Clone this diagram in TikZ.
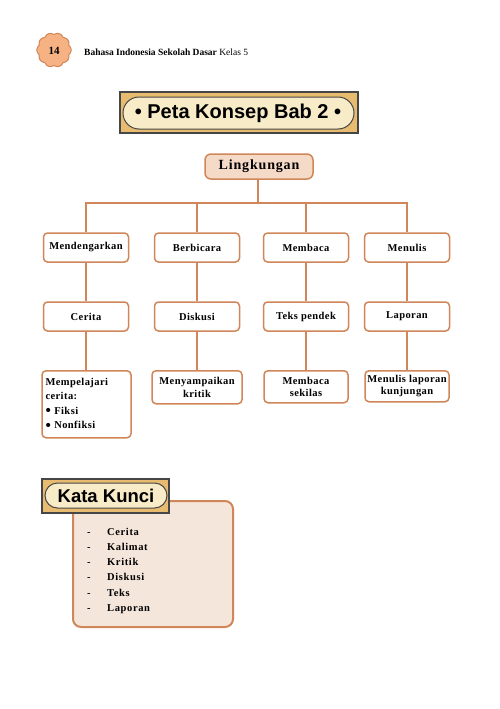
\documentclass[tikz,border=0pt]{standalone}
\usepackage{fontspec}
\usepackage{graphicx}
\setmainfont{Liberation Serif}
\newfontfamily\lab[LetterSpace=4]{Liberation Serif}
\newfontfamily\labwide[LetterSpace=6]{Liberation Serif}
\newfontfamily\hsans{Liberation Sans}
\definecolor{lineC}{RGB}{208,134,88}
\definecolor{lingFill}{RGB}{245,218,200}
\definecolor{badgeFill}{RGB}{246,178,130}
\definecolor{titleFill}{RGB}{232,188,112}
\definecolor{ellFill}{RGB}{248,236,200}
\definecolor{kkFill}{RGB}{245,230,220}
\definecolor{darkB}{RGB}{70,70,70}
\newcommand{\bigbul}{\raisebox{-1.7pt}{\scalebox{1.45}{\textbullet}}}
\begin{document}
\begin{tikzpicture}[x=1pt,y=-1pt,
  conn/.style={draw=lineC, line width=1.8pt},
  box/.style={draw=lineC, line width=1.5pt, rounded corners=4pt, fill=white,
    minimum width=85pt, minimum height=29pt, inner sep=2pt, align=center,
    font={\lab\bfseries\fontsize{10.5}{12.5}\selectfont}},
  titlerect/.style={draw=darkB, line width=1.5pt, fill=titleFill, inner sep=0pt},
  titleell/.style={draw=darkB, line width=1pt, fill=ellFill, inner sep=0pt},
  titletext/.style={font={\hsans\bfseries\fontsize{20}{24}\selectfont}, inner sep=0pt},
  kw/.style={anchor=base west, inner sep=0pt, font={\labwide\bfseries\fontsize{10.5}{12}\selectfont}}
]
\useasboundingbox (0,0) rectangle (499,709);
\fill[white] (0,0) rectangle (499,709);

% page badge and header
\draw[draw=lineC, line width=1pt, fill=badgeFill]
  plot[domain=0:360, samples=241, smooth]
  ({54+(15.5+1.6*abs(cos(5*\x)))*cos(\x)}, {50+(15.5+1.6*abs(cos(5*\x)))*sin(\x)}) -- cycle;
\node[font={\bfseries\fontsize{11}{13}\selectfont}] (badge) at (54,50.5) {14};
\node[anchor=base west, inner sep=0pt, font={\fontsize{9.5}{11}\selectfont}] (header) at (84,56)
  {\textbf{Bahasa Indonesia Sekolah Dasar} Kelas 5};

% main title
\node[titlerect, minimum width=238pt, minimum height=41pt] (title) at (239,112.5) {};
\node[titleell, rounded corners=16pt, minimum width=231pt, minimum height=32pt] (titleinner) at (238.5,113) {};
\node[titletext] (titletxt) at (238,113) {\textbullet\ Peta Konsep Bab 2 \textbullet};

% root
\node[draw=lineC, line width=1.5pt, fill=lingFill, rounded corners=6pt,
  minimum width=108pt, minimum height=25pt, inner sep=0pt,
  font={\labwide\bfseries\fontsize{14}{16}\selectfont}] (ling) at (259,166.5) {Lingkungan};

% level 1
\node[box] (m1) at (86,247.5) {Mendengarkan};
\node[box] (m2) at (197,247.5) {Berbicara};
\node[box] (m3) at (306,247.5) {Membaca};
\node[box] (m4) at (407,247.5) {Menulis};

% level 2
\node[box] (c1) at (86,316.5) {Cerita};
\node[box] (c2) at (197,316.5) {Diskusi};
\node[box] (c3) at (306,316.5) {Teks pendek};
\node[box] (c4) at (407,316.5) {Laporan};

% level 3
\node[box, anchor=north, minimum width=89pt, minimum height=67pt, text width=82pt, align=left,
  font={\lab\bfseries\fontsize{10.5}{14.4}\selectfont}] (d1) at (86.5,370)
  {Mempelajari\\cerita:\\\bigbul\ Fiksi\\\bigbul\ Nonfiksi};
\node[box, anchor=north, minimum width=90pt, minimum height=33pt] (d2) at (197,370) {Menyampaikan\\kritik};
\node[box, anchor=north, minimum width=84pt, minimum height=32pt] (d3) at (306,370) {Membaca\\sekilas};
\node[box, anchor=north, minimum width=84pt, minimum height=31pt] (d4) at (407,370) {Menulis laporan\\kunjungan};

% connectors
\coordinate (bar) at (258,203);
\draw[conn] (ling.south -| bar) -- (bar);
\draw[conn] (m1.north) |- (bar);
\draw[conn] (m4.north) |- (bar);
\draw[conn] (m2.north) -- (m2.north |- bar);
\draw[conn] (m3.north) -- (m3.north |- bar);
\foreach \i in {1,2,3,4} {
  \draw[conn] (m\i.south) -- (c\i.north);
  \draw[conn] (c\i.south) -- (c\i.south |- d\i.north);
}

% Kata Kunci
\node[draw=lineC, line width=2pt, rounded corners=8pt, fill=kkFill,
  minimum width=160pt, minimum height=126pt, inner sep=0pt] (kkbox) at (153,564) {};
\node[titlerect, minimum width=127pt, minimum height=34pt] (kktitle) at (105.5,496) {};
\node[titleell, rounded corners=12.5pt, minimum width=122pt, minimum height=25pt] (kkinner) at (106,495.5) {};
\node[font={\hsans\bfseries\fontsize{18.5}{22}\selectfont}, inner sep=0pt] (kktxt) at (106,496) {Kata Kunci};
\foreach \w [count=\i] in {Cerita,Kalimat,Kritik,Diskusi,Teks,Laporan} {
  \node[kw] (kw\i) at (87,{535+15.3*(\i-1)}) {\makebox[20pt][l]{-}\w};
}
\end{tikzpicture}
\end{document}
